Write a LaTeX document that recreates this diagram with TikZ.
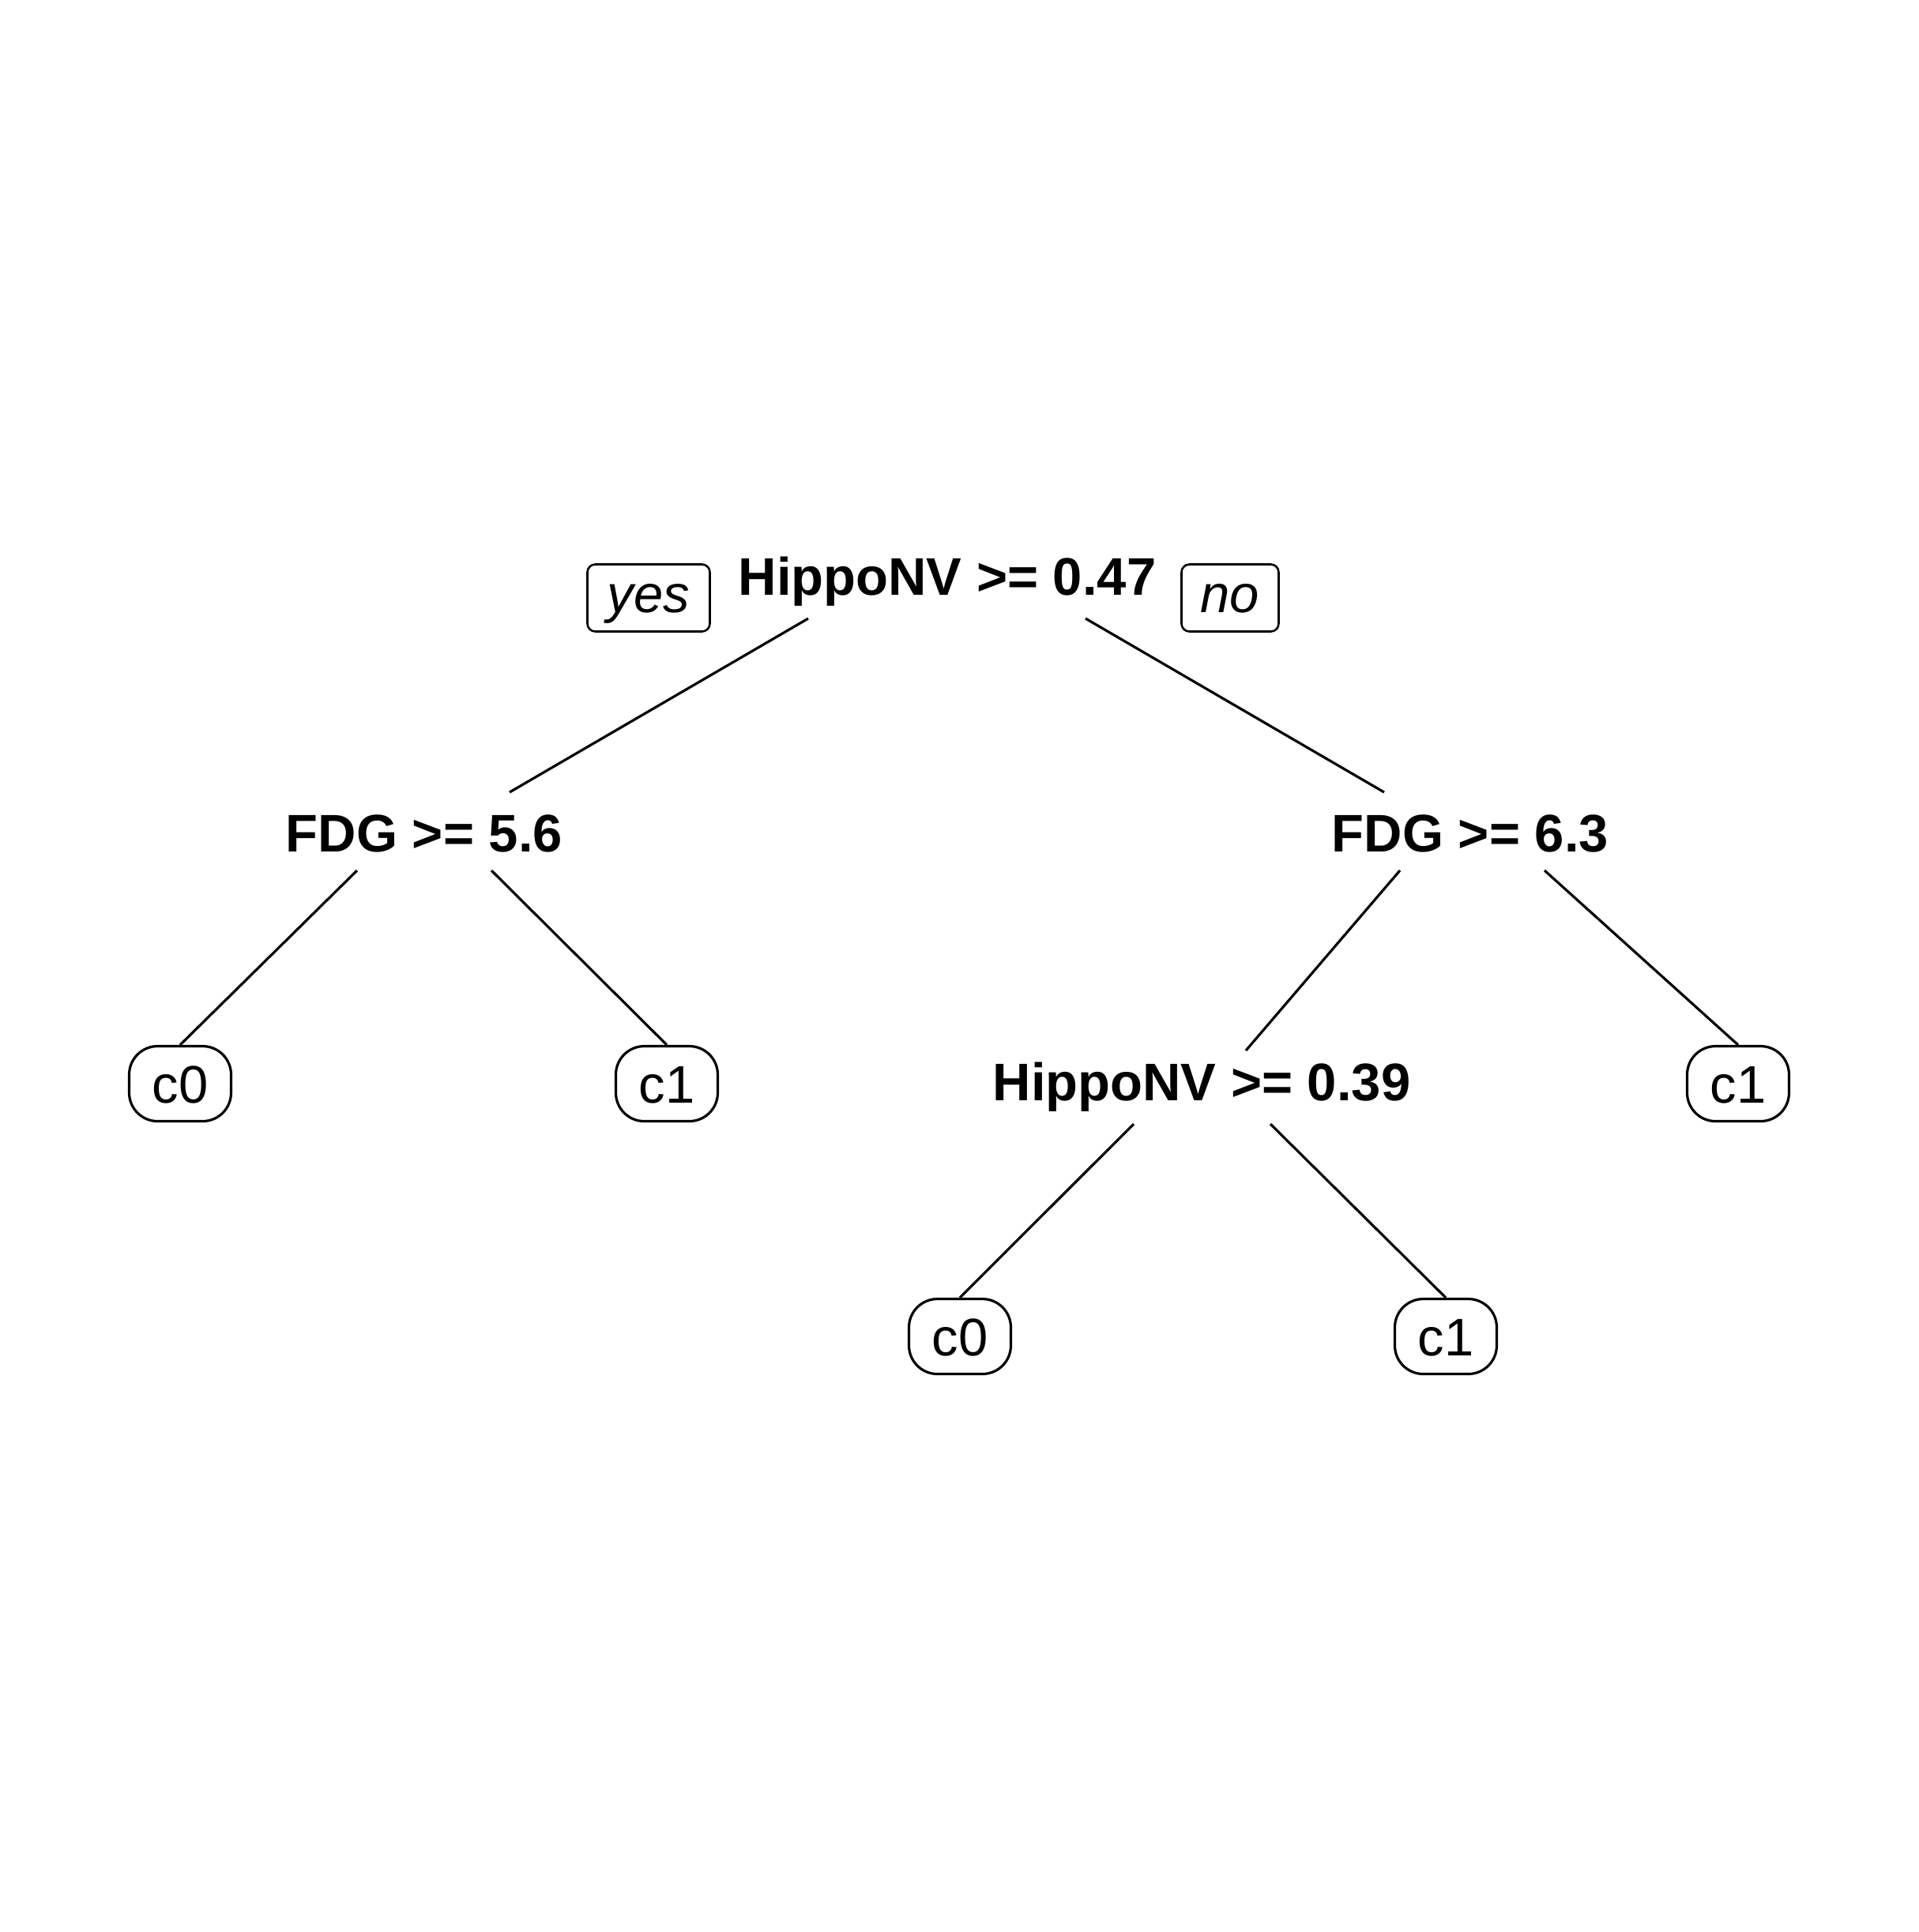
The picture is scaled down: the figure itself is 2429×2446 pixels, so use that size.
\documentclass[tikz,border=0pt]{standalone}
\usepackage{fontspec}
\setmainfont{Liberation Sans}
\usetikzlibrary{calc}
\begin{document}
\begin{tikzpicture}[x=0.25pt,y=-0.25pt,
  every node/.style={font=\fontsize{16.75pt}{20pt}\selectfont},
  split/.style={inner sep=0pt, text height=12pt, text depth=0pt, font=\fontsize{16.75pt}{20pt}\selectfont\bfseries},
  leaf/.style={draw, line width=0.8pt, rounded corners=9pt, minimum width=32.25pt, minimum height=23.75pt, inner sep=0pt, text height=12pt, text depth=0pt},
  lbl/.style={draw, line width=0.65pt, rounded corners=2.5pt, minimum height=21.25pt, inner sep=0pt, text height=9pt, text depth=0pt, font=\fontsize{16.75pt}{20pt}\selectfont\itshape},
  branch/.style={line width=0.8pt}]
\path[use as bounding box] (0,0) rectangle (2429,2446);
% split nodes
\node[split] (root) at (1199,729) {HippoNV >= 0.47};
\node[split] (fdgA) at (537,1054) {FDG >= 5.6};
\node[split] (fdgB) at (1861,1054) {FDG >= 6.3};
\node[split] (hipB) at (1521,1369) {HippoNV >= 0.39};
% yes / no labels
\node[lbl, minimum width=38.75pt] (yes) at (821,757) {yes};
\node[lbl, minimum width=30.75pt] (no) at (1557,757) {no};
% leaves
\node[leaf] (lA0) at (228,1372) {c0};
\node[leaf] (lA1) at (844,1372) {c1};
\node[leaf] (lB1) at (2200,1372) {c1};
\node[leaf] (lC0) at (1215,1692) {c0};
\node[leaf] (lC1) at (1830,1692) {c1};
% branches
\draw[branch] ($(root)+(-176,54)$) -- ($(fdgA)+(108,-51)$);
\draw[branch] ($(root)+(175,54)$) -- ($(fdgB)+(-109,-51)$);
\draw[branch] ($(fdgA)+(-85,48)$) -- (lA0.north);
\draw[branch] ($(fdgA)+(85,48)$) -- (lA1.north);
\draw[branch] ($(fdgB)+(-89,48)$) -- ($(hipB)+(56,-39)$);
\draw[branch] ($(fdgB)+(94,48)$) -- (lB1.north);
\draw[branch] ($(hipB)+(-86,54)$) -- (lC0.north);
\draw[branch] ($(hipB)+(87,54)$) -- (lC1.north);
\end{tikzpicture}
\end{document}
